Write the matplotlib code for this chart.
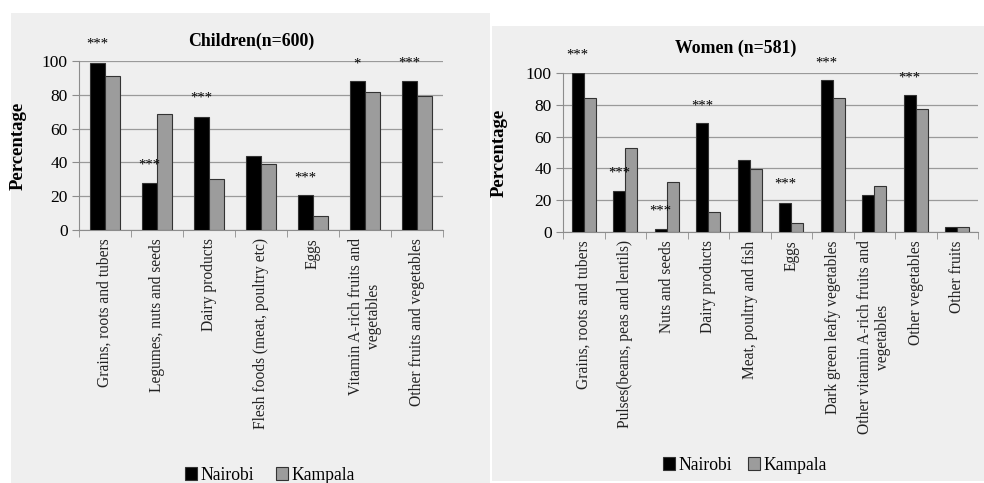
import numpy as np
import matplotlib
matplotlib.use('Agg')
import matplotlib.pyplot as plt
from matplotlib.patches import Rectangle

plt.rcParams['font.family'] = ['Liberation Serif', 'DejaVu Serif']

################ DATA ####################

child_cats = ['Grains, roots and tubers', 'Legumes, nuts and seeds', 'Dairy products',
              'Flesh foods (meat, poultry etc)', 'Eggs',
              'Vitamin A-rich fruits and\nvegetables', 'Other fruits and vegetables']
child_nairobi = [99, 28, 67, 44, 20.5, 88, 88]
child_kampala = [91, 68.5, 30, 39, 8, 81.5, 79.5]
child_stars = ['***', '***', '***', '', '***', '*', '***']
child_star_y = [110, 38.5, 78, None, 31, 98, 99]

women_cats = ['Grains, roots and tubers', 'Pulses(beans, peas and lentils)', 'Nuts and seeds',
              'Dairy products', 'Meat, poultry and fish', 'Eggs', 'Dark green leafy vegetables',
              'Other vitamin A-rich fruits and\nvegetables', 'Other vegetables', 'Other fruits']
women_nairobi = [100, 26, 1.7, 68.5, 45.3, 18.4, 95.4, 23.5, 86, 3.4]
women_kampala = [84.3, 52.8, 31.4, 12.6, 39.6, 5.7, 84.3, 28.9, 77.4, 3.4]
women_stars = ['***', '***', '***', '***', '', '***', '***', '', '***', '']
women_star_y = [111, 37, 13, 79.5, None, 30, 106.5, None, 97, None]

panel_bg = '#efefef'
col_nairobi = '#000000'
col_kampala = '#9c9c9c'

fig = plt.figure(figsize=(9.84, 4.83), dpi=100)
fig.patch.set_facecolor('white')

W, H = 984.0, 483.0
# panel backgrounds (pixel boxes -> figure fraction)
fig.patches.append(Rectangle((11 / W, 0), (490 - 11) / W, (H - 13) / H,
                             transform=fig.transFigure, fc=panel_bg, ec='none', zorder=-10))
fig.patches.append(Rectangle((492 / W, 2 / H), (984 - 492) / W, (H - 26 - 2) / H,
                             transform=fig.transFigure, fc=panel_bg, ec='none', zorder=-10))


def draw_panel(rect, cats, nai, kam, stars, star_y, title, title_y, legend_xy, ylab_x, colsp):
    ax = fig.add_axes(rect)
    ax.set_facecolor('none')
    n = len(cats)
    x = np.arange(n)
    bw = 0.29
    ax.bar(x - bw / 2, nai, bw, color=col_nairobi, edgecolor='#333333', linewidth=0.8,
           label='Nairobi', zorder=3)
    ax.bar(x + bw / 2, kam, bw, color=col_kampala, edgecolor='#333333', linewidth=0.8,
           label='Kampala', zorder=3)
    for i, (s, sy) in enumerate(zip(stars, star_y)):
        if s:
            ax.text(x[i] - bw / 2, sy, s, ha='center', va='center', fontsize=10.5,
                    clip_on=False, zorder=4)
    ax.set_xlim(-0.5, n - 0.5)
    ax.set_ylim(0, 100)
    ax.set_yticks(np.arange(0, 101, 20))
    ax.yaxis.grid(True, color='#9a9a9a', linewidth=0.9, zorder=0)
    ax.set_axisbelow(True)
    for side in ['top', 'right']:
        ax.spines[side].set_visible(False)
    ax.spines['left'].set_color('#8c8c8c')
    ax.spines['bottom'].set_color('#8c8c8c')
    ax.tick_params(axis='y', length=5, color='#8c8c8c', labelsize=12.5, pad=3)
    ax.set_xticks(x)
    ax.set_xticklabels(cats, rotation=90, fontsize=11.2, multialignment='center', color='#222222')
    ax.tick_params(axis='x', length=0, pad=6)
    ax.set_xticks(np.arange(-0.5, n, 1.0), minor=True)
    ax.tick_params(axis='x', which='minor', length=5, color='#8c8c8c')
    ax.set_ylabel('Percentage', fontsize=13.5, fontweight='bold')
    yc = rect[1] + rect[3] / 2
    ax.yaxis.set_label_coords(ylab_x, yc, transform=fig.transFigure)
    fig.text(title[1], title_y, title[0], ha='center', va='center', fontsize=12.8,
             fontweight='bold')
    handles, labels = ax.get_legend_handles_labels()
    fig.legend(handles, labels, loc='center', bbox_to_anchor=legend_xy,
               ncol=2, frameon=False, fontsize=12.7, handlelength=0.7, handleheight=0.7,
               handletextpad=0.2, columnspacing=colsp)
    return ax


draw_panel([79 / W, (H - 230) / H, (443 - 79) / W, 169 / H],
           child_cats, child_nairobi, child_kampala, child_stars, child_star_y,
           ('Children(n=600)', 251 / W), (H - 41) / H, (270 / W, (H - 475) / H), 27 / W, 1.2)

draw_panel([563 / W, (H - 232) / H, (978 - 563) / W, 159 / H],
           women_cats, women_nairobi, women_kampala, women_stars, women_star_y,
           ('Women (n=581)', 736 / W), (H - 48) / H, (745 / W, (H - 465) / H), 508 / W, 0.9)

fig.savefig('out.png', dpi=100, facecolor='white')
